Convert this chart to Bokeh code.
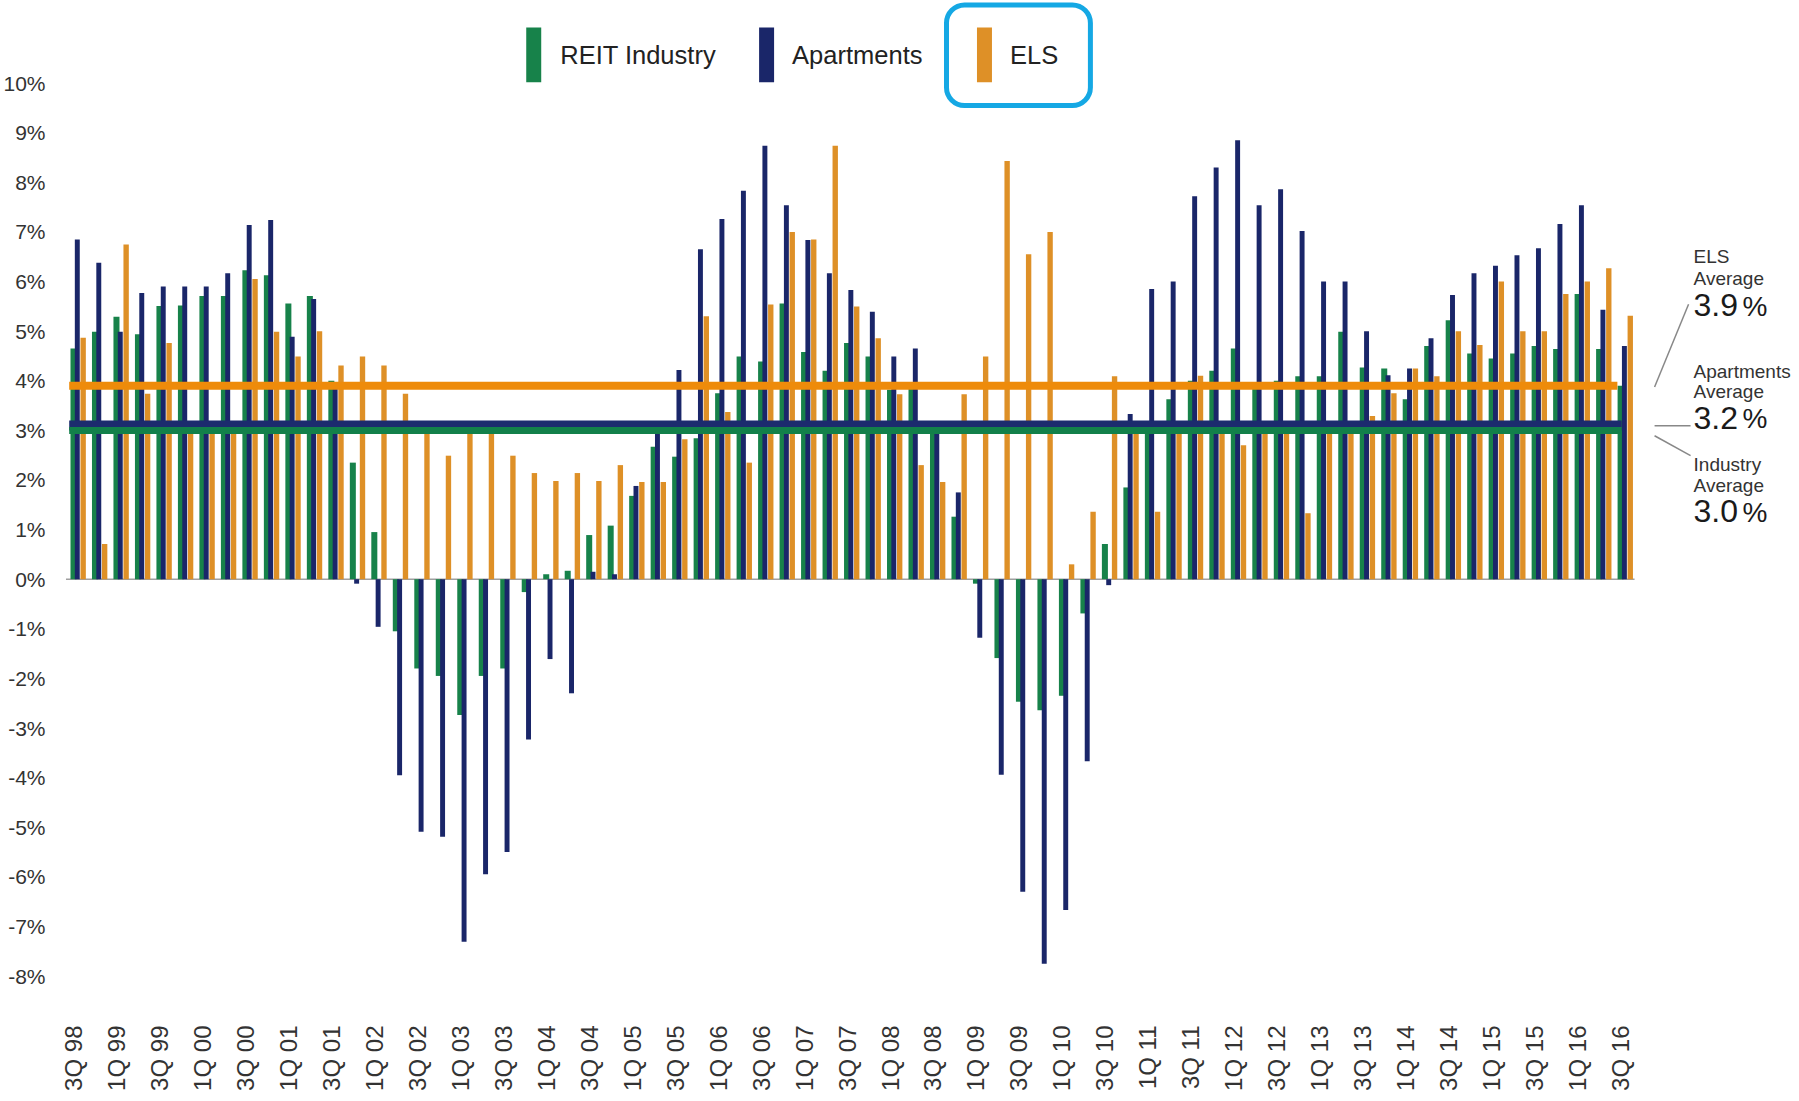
from bokeh.plotting import figure
from bokeh.models import FixedTicker, Range1d, BoxAnnotation
from bokeh.core.properties import value
from bokeh.embed import file_html
from bokeh.resources import INLINE

# ---------------- data ----------------
quarters = [
    "3Q 98", "4Q 98",
    "1Q 99", "2Q 99", "3Q 99", "4Q 99",
    "1Q 00", "2Q 00", "3Q 00", "4Q 00",
    "1Q 01", "2Q 01", "3Q 01", "4Q 01",
    "1Q 02", "2Q 02", "3Q 02", "4Q 02",
    "1Q 03", "2Q 03", "3Q 03", "4Q 03",
    "1Q 04", "2Q 04", "3Q 04", "4Q 04",
    "1Q 05", "2Q 05", "3Q 05", "4Q 05",
    "1Q 06", "2Q 06", "3Q 06", "4Q 06",
    "1Q 07", "2Q 07", "3Q 07", "4Q 07",
    "1Q 08", "2Q 08", "3Q 08", "4Q 08",
    "1Q 09", "2Q 09", "3Q 09", "4Q 09",
    "1Q 10", "2Q 10", "3Q 10", "4Q 10",
    "1Q 11", "2Q 11", "3Q 11", "4Q 11",
    "1Q 12", "2Q 12", "3Q 12", "4Q 12",
    "1Q 13", "2Q 13", "3Q 13", "4Q 13",
    "1Q 14", "2Q 14", "3Q 14", "4Q 14",
    "1Q 15", "2Q 15", "3Q 15", "4Q 15",
    "1Q 16", "2Q 16", "3Q 16",
]

reit_industry = [
    4.65, 4.99, 5.29, 4.94, 5.51, 5.52, 5.71, 5.71, 6.23, 6.13,
    5.56, 5.71, 4.00, 2.35, 0.95, -1.05, -1.80, -1.95, -2.74, -1.95,
    -1.80, -0.26, 0.10, 0.17, 0.89, 1.08, 1.68, 2.67, 2.47, 2.84,
    3.75, 4.49, 4.39, 5.56, 4.58, 4.20, 4.76, 4.49, 3.82, 3.95,
    3.00, 1.26, -0.09, -1.59, -2.47, -2.64, -2.35, -0.69, 0.71, 1.85,
    3.00, 3.63, 4.00, 4.20, 4.65, 3.90, 4.00, 4.09, 4.09, 4.99,
    4.27, 4.25, 3.63, 4.70, 5.22, 4.55, 4.45, 4.55, 4.70, 4.64,
    5.75, 4.64, 3.90,
]

apartments = [
    6.85, 6.38, 4.99, 5.77, 5.90, 5.90, 5.90, 6.17, 7.14, 7.24,
    4.89, 5.65, 3.90, -0.09, -0.96, -3.95, -5.09, -5.19, -7.31, -5.95,
    -5.50, -3.23, -1.61, -2.30, 0.15, 0.10, 1.88, 3.00, 4.22, 6.65,
    7.26, 7.83, 8.74, 7.54, 6.84, 6.17, 5.83, 5.39, 4.49, 4.65,
    3.00, 1.75, -1.18, -3.94, -6.30, -7.75, -6.67, -3.67, -0.12, 3.33,
    5.85, 6.00, 7.72, 8.30, 8.85, 7.54, 7.86, 7.02, 6.00, 6.00,
    5.00, 4.11, 4.25, 4.86, 5.73, 6.17, 6.32, 6.53, 6.67, 7.16,
    7.54, 5.43, 4.70,
]

els = [
    4.87, 0.71, 6.75, 3.74, 4.76, 3.00, 3.00, 3.00, 6.05, 4.99,
    4.49, 5.00, 4.31, 4.49, 4.31, 3.74, 3.00, 2.49, 3.00, 3.00,
    2.49, 2.14, 1.98, 2.14, 1.98, 2.30, 1.96, 1.96, 2.82, 5.30,
    3.37, 2.35, 5.54, 7.00, 6.85, 8.74, 5.50, 4.86, 3.73, 2.30,
    1.96, 3.73, 4.49, 8.43, 6.55, 7.00, 0.30, 1.36, 4.09, 3.00,
    1.36, 3.00, 4.10, 3.00, 2.70, 3.00, 3.00, 1.33, 3.00, 3.00,
    3.29, 3.75, 4.25, 4.09, 5.00, 4.72, 6.00, 5.00, 5.00, 5.75,
    6.00, 6.27, 5.31,
]

series_names = ["REIT Industry", "Apartments", "ELS"]
avg_titles = ["ELS", "Apartments", "Industry"]
avg_industry = 3.0
avg_apartments = 3.2
avg_els = 3.9
y_ticks = list(range(-8, 11))

# ---------------- style ----------------
GREEN = "#17824A"
NAVY = "#1A2669"
ORANGE = "#DE9027"
ORANGE_LINE = "#EE8B0A"
GREEN_LINE = "#12804A"
NAVY_LINE = "#1C2B6E"
HILITE = "#15A8E4"
FONT = "Liberation Sans"

# page-pixel geometry (figure is drawn at the page origin)
PX_PER_Q = 21.5
PX_PER_PCT = 49.8
X0_PX = 72.0
Y0_PX = 581.0
LEFT, RIGHT, TOP, BOTTOM = 61, 1791, 0, 1012
W, H = 1791, 1093


def dx(px):
    return (px - X0_PX) / PX_PER_Q


def dy(py):
    return (Y0_PX - py) / PX_PER_PCT


p = figure(
    width=W, height=H,
    x_range=Range1d(dx(LEFT), dx(RIGHT)),
    y_range=Range1d(dy(BOTTOM), dy(TOP)),
    output_backend="svg", toolbar_location=None,
    min_border_left=LEFT, min_border_right=W - RIGHT,
    min_border_top=TOP, min_border_bottom=H - BOTTOM,
)
p.title.visible = False
p.outline_line_color = None
p.background_fill_color = "white"
p.border_fill_color = "white"
p.xgrid.visible = False
p.ygrid.visible = False

n = len(quarters)
idx = list(range(n))

# x axis
p.xaxis.ticker = FixedTicker(ticks=idx[::2])
p.xaxis.major_label_overrides = {i: quarters[i] for i in idx[::2]}
p.xaxis.major_label_orientation = 1.5707963267948966
p.xaxis.axis_line_color = None
p.xaxis.major_tick_line_color = None
p.xaxis.minor_tick_line_color = None
p.xaxis.major_label_standoff = 11
p.xaxis.major_label_text_font = FONT
p.xaxis.major_label_text_font_size = "24px"
p.xaxis.major_label_text_color = "#333333"

# y axis
p.yaxis.ticker = FixedTicker(ticks=y_ticks)
p.yaxis.major_label_overrides = {v: f"{v}%" for v in y_ticks}
p.yaxis.axis_line_color = None
p.yaxis.major_tick_line_color = None
p.yaxis.minor_tick_line_color = None
p.yaxis.major_label_standoff = 11
p.yaxis.major_label_text_font = FONT
p.yaxis.major_label_text_font_size = "21px"
p.yaxis.major_label_text_color = "#333333"

# zero baseline
p.segment(x0=[-0.35], y0=[0], x1=[n - 1 + 0.65], y1=[0], line_color="#A0A0A0", line_width=1.5)

# bars
p.vbar(x=[i + 0.0 for i in idx], top=reit_industry, bottom=0, width=0.28,
       fill_color=GREEN, line_color=None)
p.vbar(x=[i + 0.177 for i in idx], top=apartments, bottom=0, width=0.23,
       fill_color=NAVY, line_color=None)
p.vbar(x=[i + 0.45 for i in idx], top=els, bottom=0, width=0.25,
       fill_color=ORANGE, line_color=None)

# average lines
lx0, lx1 = -0.2, n - 1 + 0.05
p.quad(left=[lx0], right=[lx1], bottom=[avg_industry], top=[avg_apartments],
       fill_color=NAVY_LINE, line_color=None)
p.segment(x0=[lx0], y0=[avg_industry], x1=[lx1], y1=[avg_industry],
          line_color=GREEN_LINE, line_width=7)
p.segment(x0=[lx0], y0=[avg_els], x1=[n - 1 - 0.15], y1=[avg_els],
          line_color=ORANGE_LINE, line_width=8)

# legend (manual)
leg_colors = [GREEN, NAVY, ORANGE]
leg_mark_px = [525, 758, 976]
leg_text_px = [559, 791, 1009]
p.quad(left=[dx(v) for v in leg_mark_px], right=[dx(v + 15) for v in leg_mark_px],
       top=[dy(27)] * 3, bottom=[dy(82)] * 3, fill_color=leg_colors, line_color=None)
p.text(x=[dx(v) for v in leg_text_px], y=[dy(55)] * 3, text=series_names,
       text_font=value(FONT), text_font_size="25.5px", text_color="#222222",
       text_baseline="middle", text_align="left")

# highlight box around ELS
p.add_layout(BoxAnnotation(left=dx(945.5), right=dx(1089.5), top=dy(4.5), bottom=dy(105.5),
                           fill_alpha=0, line_color=HILITE, line_alpha=1.0, line_width=5,
                           border_radius=18))

# right-hand average annotations
avg_vals = [avg_els, avg_apartments, avg_industry]
title_y = [257, 372, 466]
sub_y = [279, 393, 487]
val_y = [306, 419, 513]
TX = 1693
p.text(x=[dx(TX)] * 3, y=[dy(v) for v in title_y], text=avg_titles,
       text_font=value(FONT), text_font_size="19px", text_color="#333333",
       text_baseline="middle", text_align="left")
p.text(x=[dx(TX)] * 3, y=[dy(v) for v in sub_y], text=["Average"] * 3,
       text_font=value(FONT), text_font_size="19px", text_color="#333333",
       text_baseline="middle", text_align="left")
p.text(x=[dx(TX)] * 3, y=[dy(v) for v in val_y], text=[f"{v:.1f}" for v in avg_vals],
       text_font=value(FONT), text_font_size="32px", text_color="#1a1a1a",
       text_baseline="middle", text_align="left")
p.text(x=[dx(1742)] * 3, y=[dy(v + 1) for v in val_y], text=["%"] * 3,
       text_font=value(FONT), text_font_size="28px", text_color="#1a1a1a",
       text_baseline="middle", text_align="left")

# leader lines
p.segment(x0=[dx(1654), dx(1654), dx(1654)], y0=[dy(388), dy(427), dy(437)],
          x1=[dx(1688), dx(1690), dx(1690)], y1=[dy(305), dy(427), dy(457)],
          line_color="#888888", line_width=1.5)

open("out.html", "w").write(file_html(p, INLINE))
